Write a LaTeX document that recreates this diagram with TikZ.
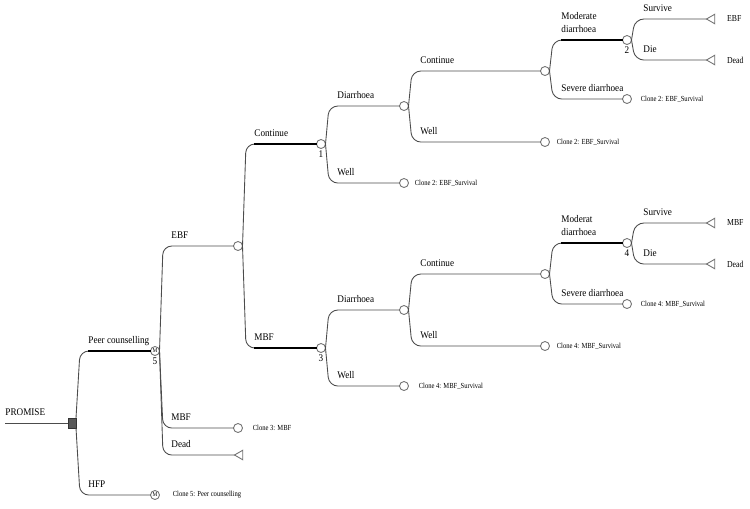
\documentclass[tikz,border=0pt]{standalone}
\usepackage{fontspec}
\setmainfont[FakeStretch=0.9]{Liberation Serif}
\newfontfamily\clonefont[FakeStretch=0.85]{Liberation Serif}
\usetikzlibrary{calc,positioning,shapes.geometric}

\begin{document}
\begin{tikzpicture}[x=0.02cm, y=-0.02cm, label distance=1.2pt,
  conn/.style={draw=black!70, line width=0.5pt, rounded corners=5pt},
  best/.style={draw=black, line width=1.6pt},
  chance/.style={circle, draw=black!55, fill=white, line width=0.5pt, minimum size=0.18cm, inner sep=0pt, outer sep=0pt},
  markov/.style={chance, font=\fontsize{3.4}{3.4}\selectfont},
  term/.style={regular polygon, regular polygon sides=3, shape border rotate=90, draw=black!55, fill=white, line width=0.5pt, minimum size=0.22cm, inner sep=0pt, outer sep=0pt},
  decision/.style={rectangle, draw=black!80, fill=black!65, minimum width=0.16cm, minimum height=0.2cm, inner sep=0pt, outer sep=0pt},
  lbl/.style={anchor=south west, inner sep=0pt, yshift=4pt, text depth=0pt, align=left, font=\fontsize{5.8}{7.4}\selectfont},
  brl/.style={lbl, pos=0, xshift=0.16cm},
  clone/.style={anchor=west, inner sep=0pt, font=\clonefont\fontsize{4.4}{5}\selectfont},
  endlbl/.style={clone, font=\clonefont\fontsize{5.2}{6}\selectfont},
  num/.style={inner sep=0pt, font=\fontsize{5.8}{6}\selectfont}
]
  \useasboundingbox (0,0) rectangle (750,508);

  % Root and decision
  \coordinate (root) at (5,423);
  \node[decision] (dec) at (72,423) {};
  \draw[conn] (root) node[lbl] {PROMISE} -- (dec);

  % Markov nodes
  \node[markov, label={[num]below:5}] (m5) at (155,351) {M};
  \node[markov] (hfp) at (155,495) {M};
  \node[clone, right=0.26cm of hfp] (hfpc) {Clone 5: Peer counselling};

  % States of the Markov node
  \node[chance] (ebf) at (238,246) {};
  \node[chance] (mbf) at (238,428) {};
  \node[term] (dead) at (240,455) {};
  \node[clone, right=0.2cm of mbf] (mbfc) {Clone 3: MBF};

  % EBF subtree
  \node[chance, label={[num]below:1}] (n1) at (321,144) {};
  \node[chance] (dia1) at (404,106) {};
  \node[chance] (well1) at (404,183) {};
  \node[clone, right=0.12cm of well1] (well1c) {Clone 2: EBF\_Survival};
  \node[chance] (cont1) at (545,71) {};
  \node[chance] (well2) at (545,142) {};
  \node[clone, right=0.14cm of well2] (well2c) {Clone 2: EBF\_Survival};
  \node[chance, label={[num]below:2}] (n2) at (627,40) {};
  \node[chance] (sev1) at (627,99) {};
  \node[clone, right=0.18cm of sev1] (sev1c) {Clone 2: EBF\_Survival};
  \node[term] (surv1) at (712,19) {};
  \node[term] (die1) at (712,60) {};
  \node[endlbl, right=0.24cm of surv1] (surv1c) {EBF};
  \node[endlbl, right=0.24cm of die1] (die1c) {Dead};

  % MBF subtree
  \node[chance, label={[num]below:3}] (n3) at (321,348) {};
  \node[chance] (dia3) at (404,310) {};
  \node[chance] (well3) at (404,386) {};
  \node[clone, right=0.2cm of well3] (well3c) {Clone 4: MBF\_Survival};
  \node[chance] (cont3) at (545,274) {};
  \node[chance] (well4) at (545,346) {};
  \node[clone, right=0.14cm of well4] (well4c) {Clone 4: MBF\_Survival};
  \node[chance, label={[num]below:4}] (n4) at (627,243) {};
  \node[chance] (sev3) at (627,304) {};
  \node[clone, right=0.18cm of sev3] (sev3c) {Clone 4: MBF\_Survival};
  \node[term] (surv3) at (712,223) {};
  \node[term] (die3) at (712,264) {};
  \node[endlbl, right=0.24cm of surv3] (surv3c) {MBF};
  \node[endlbl, right=0.24cm of die3] (die3c) {Dead};

  % Branches
  \draw[conn] (dec.north east) -- ($(dec |- m5)+(8,0)$) -- node[brl] {Peer counselling} (m5);
  \draw[conn] (dec.south east) -- ($(dec |- hfp)+(8,0)$) -- node[brl] {HFP} (hfp);

  \draw[conn] (m5.east) -- ($(m5 |- ebf)+(8,0)$) -- node[brl] {EBF} (ebf);
  \draw[conn] (m5.east) -- ($(m5 |- mbf)+(8,0)$) -- node[brl] {MBF} (mbf);
  \draw[conn] (m5.east) -- ($(m5 |- dead)+(8,0)$) -- node[brl] {Dead} (dead);

  \draw[conn] (ebf.east) -- ($(ebf |- n1)+(8,0)$) -- node[brl] {Continue} (n1);
  \draw[conn] (ebf.east) -- ($(ebf |- n3)+(8,0)$) -- node[brl] {MBF} (n3);

  \draw[conn] (n1.east) -- ($(n1 |- dia1)+(8,0)$) -- node[brl] {Diarrhoea} (dia1);
  \draw[conn] (n1.east) -- ($(n1 |- well1)+(8,0)$) -- node[brl] {Well} (well1);
  \draw[conn] (dia1.east) -- ($(dia1 |- cont1)+(8,0)$) -- node[brl] {Continue} (cont1);
  \draw[conn] (dia1.east) -- ($(dia1 |- well2)+(8,0)$) -- node[brl] {Well} (well2);
  \draw[conn] (cont1.east) -- ($(cont1 |- n2)+(8,0)$) -- node[brl] {Moderate\\diarrhoea} (n2);
  \draw[conn] (cont1.east) -- ($(cont1 |- sev1)+(8,0)$) -- node[brl] {Severe diarrhoea} (sev1);
  \draw[conn] (n2.east) -- ($(n2 |- surv1)+(8,0)$) -- node[brl] {Survive} (surv1);
  \draw[conn] (n2.east) -- ($(n2 |- die1)+(8,0)$) -- node[brl] {Die} (die1);

  \draw[conn] (n3.east) -- ($(n3 |- dia3)+(8,0)$) -- node[brl] {Diarrhoea} (dia3);
  \draw[conn] (n3.east) -- ($(n3 |- well3)+(8,0)$) -- node[brl] {Well} (well3);
  \draw[conn] (dia3.east) -- ($(dia3 |- cont3)+(8,0)$) -- node[brl] {Continue} (cont3);
  \draw[conn] (dia3.east) -- ($(dia3 |- well4)+(8,0)$) -- node[brl] {Well} (well4);
  \draw[conn] (cont3.east) -- ($(cont3 |- n4)+(8,0)$) -- node[brl] {Moderat\\diarrhoea} (n4);
  \draw[conn] (cont3.east) -- ($(cont3 |- sev3)+(8,0)$) -- node[brl] {Severe diarrhoea} (sev3);
  \draw[conn] (n4.east) -- ($(n4 |- surv3)+(8,0)$) -- node[brl] {Survive} (surv3);
  \draw[conn] (n4.east) -- ($(n4 |- die3)+(8,0)$) -- node[brl] {Die} (die3);

  % Optimal path
  \draw[best] ($(dec |- m5)+(16,0)$) -- (m5);
  \draw[best] ($(ebf |- n1)+(16,0)$) -- (n1);
  \draw[best] ($(ebf |- n3)+(16,0)$) -- (n3);
  \draw[best] ($(cont1 |- n2)+(16,0)$) -- (n2);
  \draw[best] ($(cont3 |- n4)+(16,0)$) -- (n4);
\end{tikzpicture}
\end{document}
